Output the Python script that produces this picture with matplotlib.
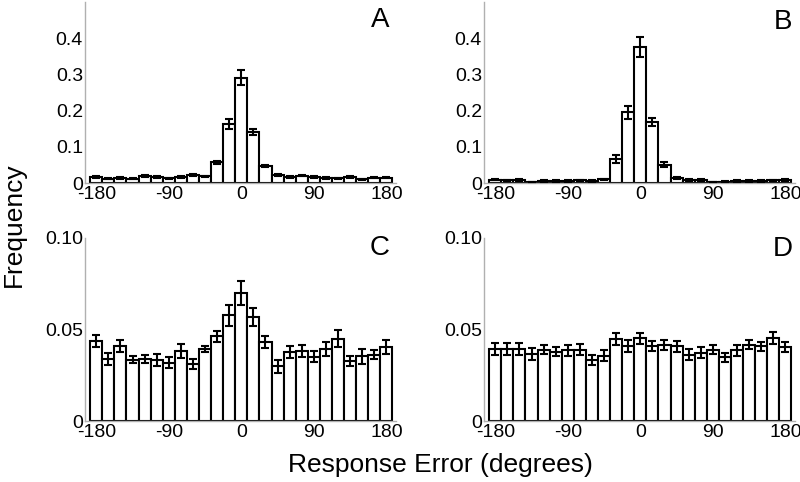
import numpy as np
import matplotlib.pyplot as plt

plt.rcParams['font.family'] = ['Liberation Sans', 'DejaVu Sans']

# bin centres in degrees (25 bins of 15 deg)
centers = np.arange(-180, 181, 15)

freq_a = [0.017, 0.012, 0.014, 0.012, 0.019, 0.017, 0.013, 0.016, 0.022, 0.018,
          0.057, 0.163, 0.291, 0.140, 0.047, 0.022, 0.017, 0.020, 0.017, 0.014,
          0.013, 0.016, 0.010, 0.015, 0.015]
err_a = [0.003, 0.002, 0.002, 0.002, 0.003, 0.003, 0.002, 0.002, 0.003, 0.002,
         0.004, 0.013, 0.020, 0.008, 0.003, 0.003, 0.002, 0.002, 0.002, 0.002,
         0.002, 0.002, 0.002, 0.002, 0.002]

freq_b = [0.009, 0.007, 0.008, 0.003, 0.006, 0.005, 0.006, 0.007, 0.005, 0.010,
          0.066, 0.195, 0.376, 0.168, 0.051, 0.013, 0.008, 0.008, 0.003, 0.004,
          0.005, 0.006, 0.005, 0.007, 0.008]
err_b = [0.002, 0.002, 0.002, 0.001, 0.002, 0.002, 0.002, 0.002, 0.002, 0.002,
         0.010, 0.019, 0.027, 0.011, 0.007, 0.003, 0.002, 0.002, 0.001, 0.001,
         0.002, 0.002, 0.002, 0.002, 0.002]

freq_c = [0.0436, 0.0339, 0.0408, 0.0335, 0.0339, 0.0332, 0.0317, 0.0381, 0.0311, 0.0394,
          0.0463, 0.0577, 0.0698, 0.0568, 0.0430, 0.0299, 0.0377, 0.0381, 0.0350, 0.0394,
          0.0449, 0.0326, 0.0353, 0.0363, 0.0405]
err_c = [0.0032, 0.0034, 0.0032, 0.0018, 0.0021, 0.0033, 0.0030, 0.0038, 0.0028, 0.0018,
         0.0031, 0.0057, 0.0066, 0.0048, 0.0032, 0.0037, 0.0032, 0.0033, 0.0030, 0.0039,
         0.0047, 0.0027, 0.0039, 0.0026, 0.0039]

freq_d = [0.0394, 0.0394, 0.0394, 0.0368, 0.0390, 0.0379, 0.0386, 0.0390, 0.0335, 0.0357,
          0.0449, 0.0408, 0.0452, 0.0408, 0.0416, 0.0408, 0.0361, 0.0372, 0.0390, 0.0348,
          0.0386, 0.0418, 0.0408, 0.0452, 0.0405]
err_d = [0.0031, 0.0033, 0.0032, 0.0032, 0.0025, 0.0025, 0.0029, 0.0030, 0.0027, 0.0030,
         0.0031, 0.0033, 0.0030, 0.0028, 0.0027, 0.0031, 0.0030, 0.0030, 0.0025, 0.0024,
         0.0030, 0.0027, 0.0026, 0.0032, 0.0026]

xticks = [-180, -90, 0, 90, 180]
xticklabels = ['-180', '-90', '0', '90', '180']

panels = [
    ('A', freq_a, err_a, [0, 0.1, 0.2, 0.3, 0.4], ['0', '0.1', '0.2', '0.3', '0.4'], 0.5),
    ('B', freq_b, err_b, [0, 0.1, 0.2, 0.3, 0.4], ['0', '0.1', '0.2', '0.3', '0.4'], 0.5),
    ('C', freq_c, err_c, [0, 0.05, 0.10], ['0', '0.05', '0.10'], 0.10),
    ('D', freq_d, err_d, [0, 0.05, 0.10], ['0', '0.05', '0.10'], 0.10),
]

W, H = 800, 482
fig = plt.figure(figsize=(W / 100, H / 100), dpi=100)

# axes boxes in pixels: left, top, width, height
boxes = [(85, 2, 311, 181), (484, 2, 311, 181), (85, 238, 311, 183), (484, 238, 311, 183)]
letter_pos = [(380, 20), (783, 22), (380, 248), (783, 249)]

for (name, freq, err, yt, ytl, ytop), (l, t, w, h), (lx, ly) in zip(panels, boxes, letter_pos):
    ax = fig.add_axes([l / W, 1 - (t + h) / H, w / W, h / H])
    ax.bar(centers, freq, width=15, color='white', edgecolor='black', linewidth=1.5, zorder=2)
    ax.errorbar(centers, freq, yerr=err, fmt='none', ecolor='black', elinewidth=1.5,
                capsize=3, capthick=1.5, zorder=3)
    ax.set_xlim(-194, 192)
    ax.set_ylim(0, ytop)
    ax.set_xticks(xticks)
    ax.set_xticklabels(xticklabels)
    ax.set_yticks(yt)
    ax.set_yticklabels(ytl)
    ax.tick_params(axis='x', length=0, labelsize=14, pad=2.5)
    ax.tick_params(axis='y', length=0, labelsize=14, pad=1.5)
    for side in ('top', 'right'):
        ax.spines[side].set_visible(False)
    for side in ('left', 'bottom'):
        ax.spines[side].set_color('#b0b0b0')
        ax.spines[side].set_linewidth(1)
    fig.text(lx / W, 1 - ly / H, name, fontsize=20, ha='center', va='center')

fig.text(440 / W, 1 - 465 / H, 'Response Error (degrees)', fontsize=19, ha='center', va='center')
fig.text(14 / W, 1 - 225 / H, 'Frequency', fontsize=19, ha='center', va='center', rotation=90)

fig.savefig('out.png', dpi=100)
